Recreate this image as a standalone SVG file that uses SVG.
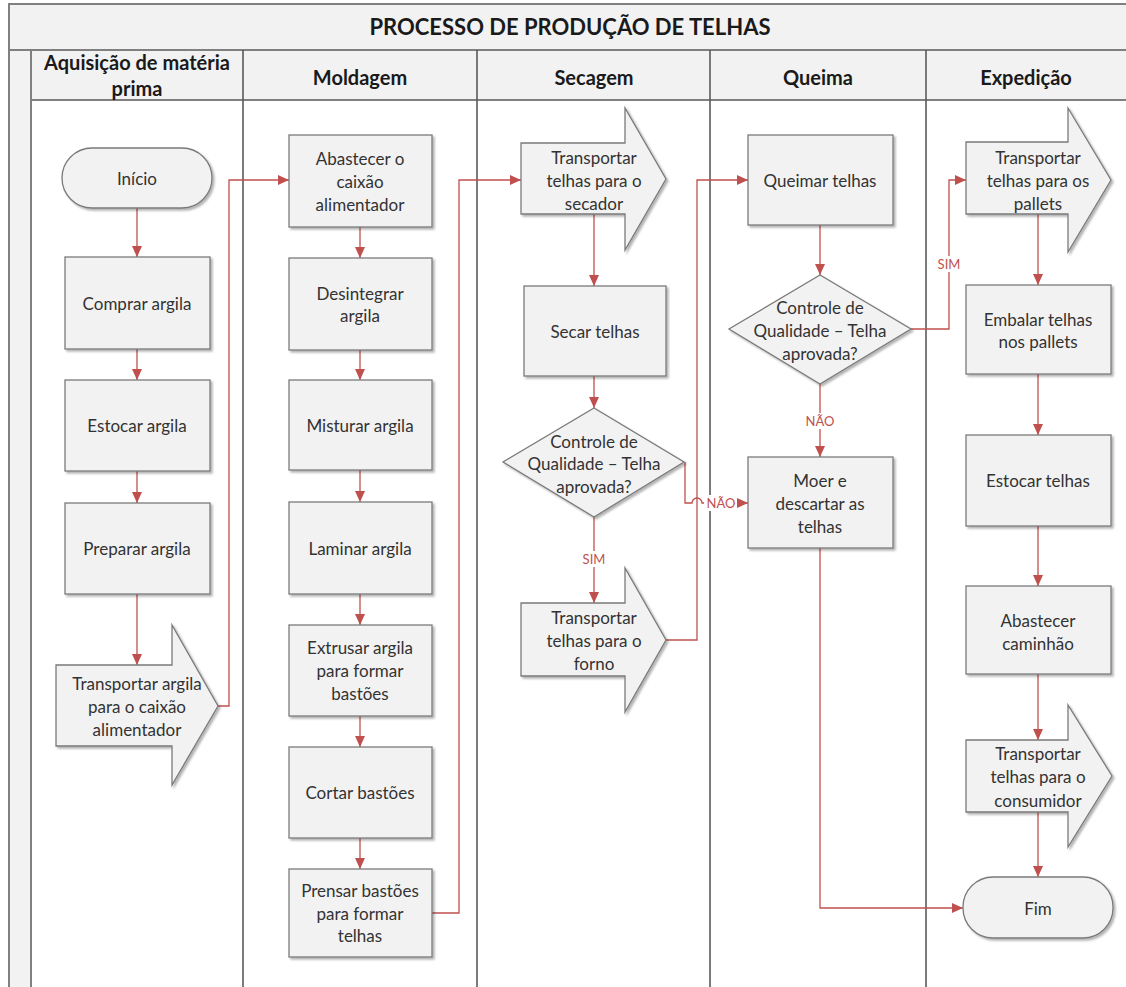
<svg xmlns="http://www.w3.org/2000/svg" width="1126" height="987" viewBox="0 0 1126 987">
  <style>
    .band { fill: #f2f2f2; stroke: #808080; stroke-width: 2; }
    .lane { stroke: #5a5a5a; stroke-width: 1.6; fill: none; }
    .title { font-family: Lato, "Liberation Sans", sans-serif; font-weight: bold; font-size: 22px; fill: #1a1a1a; text-anchor: middle; }
    .lanehead { font-family: Lato, "Liberation Sans", sans-serif; font-weight: bold; font-size: 20px; fill: #1a1a1a; text-anchor: middle; }
    .shape { fill: #f2f2f2; stroke: #7a7a7a; stroke-width: 1.3; filter: url(#shadow); }
    .label { font-family: Lato, "Liberation Sans", sans-serif; font-size: 17px; fill: #333333; text-anchor: middle; dominant-baseline: central; }
    .conn { fill: none; stroke: #c0504d; stroke-width: 1.3; }
    .arrow { marker-end: url(#head); }
    .cond { font-family: Lato, "Liberation Sans", sans-serif; font-size: 13px; fill: #c0504d; text-anchor: middle; dominant-baseline: central; }
  </style>
  <defs>
    <filter id="shadow" x="-10%" y="-10%" width="130%" height="130%">
      <feDropShadow dx="2" dy="2" stdDeviation="1.2" flood-color="#000" flood-opacity="0.3"/>
    </filter>
    <marker id="head" markerUnits="userSpaceOnUse" markerWidth="12" markerHeight="10" refX="11" refY="5" orient="auto">
      <path d="M0 0 L11 5 L0 10 Z" fill="#c0504d"/>
    </marker>
  </defs>

  <!-- pool frame: title band, lane header row and left strip -->
  <g id="frame">
    <rect x="0" y="0" width="1126" height="987" fill="#ffffff"/>
    <rect class="band" x="9" y="4" width="1130" height="46"/>
    <rect class="band" x="9" y="50" width="22" height="945"/>
    <rect class="band" x="31" y="50" width="1110" height="50"/>
    <line class="lane" x1="243" y1="50" x2="243" y2="987"/>
    <line class="lane" x1="477" y1="50" x2="477" y2="987"/>
    <line class="lane" x1="710" y1="50" x2="710" y2="987"/>
    <line class="lane" x1="926" y1="50" x2="926" y2="987"/>
    <text class="title" x="570" y="35">PROCESSO DE PRODUÇÃO DE TELHAS</text>
    <text class="lanehead" x="137" y="70">Aquisição de matéria</text>
    <text class="lanehead" x="137" y="96">prima</text>
    <text class="lanehead" x="360" y="85">Moldagem</text>
    <text class="lanehead" x="594" y="85">Secagem</text>
    <text class="lanehead" x="818" y="85">Queima</text>
    <text class="lanehead" x="1026" y="85">Expedição</text>
  </g>

  <!-- connectors -->
  <g id="connectors">
    <path class="conn arrow" d="M137 208 V257"/>
    <path class="conn arrow" d="M137 349 V380"/>
    <path class="conn arrow" d="M137 471 V503"/>
    <path class="conn arrow" d="M137 594 V665"/>
    <path class="conn arrow" d="M218 706 H229 V180 H289"/>

    <path class="conn arrow" d="M360 227 V258"/>
    <path class="conn arrow" d="M360 350 V380"/>
    <path class="conn arrow" d="M360 470 V502"/>
    <path class="conn arrow" d="M360 594 V625"/>
    <path class="conn arrow" d="M360 716 V747"/>
    <path class="conn arrow" d="M360 838 V869"/>
    <path class="conn arrow" d="M432 913 H459 V180 H521"/>

    <path class="conn arrow" d="M594 214 V286"/>
    <path class="conn arrow" d="M594 376 V408"/>
    <path class="conn arrow" d="M594 517 V603"/>
    <path class="conn arrow" d="M666 640 H697 V180 H748"/>
    <path class="conn arrow" d="M685 462 V503 H692 A5 5 0 0 1 702 503 H748"/>

    <path class="conn arrow" d="M820 225 V275"/>
    <path class="conn arrow" d="M911 329 H949 V180 H966"/>
    <path class="conn arrow" d="M820 384 V457"/>
    <path class="conn arrow" d="M820 548 V908 H963"/>

    <path class="conn arrow" d="M1038 214 V285"/>
    <path class="conn arrow" d="M1038 374 V435"/>
    <path class="conn arrow" d="M1038 526 V586"/>
    <path class="conn arrow" d="M1038 674 V740"/>
    <path class="conn arrow" d="M1038 812 V877"/>

    <!-- condition labels -->
    <rect x="581" y="551" width="26" height="16" fill="#ffffff"/>
    <text class="cond" x="594" y="559">SIM</text>
    <rect x="704" y="495" width="33" height="16" fill="#ffffff"/>
    <text class="cond" x="721" y="503">NÃO</text>
    <rect x="936" y="256" width="26" height="16" fill="#ffffff"/>
    <text class="cond" x="949" y="264">SIM</text>
    <rect x="803" y="413" width="34" height="16" fill="#ffffff"/>
    <text class="cond" x="820" y="421">NÃO</text>
  </g>

  <!-- Aquisição de matéria prima -->
  <g id="inicio">
    <rect class="shape" x="62" y="148" width="150" height="60" rx="30"/>
    <text class="label" x="137" y="178">Início</text>
  </g>
  <g id="comprar-argila">
    <rect class="shape" x="65" y="257" width="145" height="92"/>
    <text class="label" x="137" y="303">Comprar argila</text>
  </g>
  <g id="estocar-argila">
    <rect class="shape" x="65" y="380" width="145" height="91"/>
    <text class="label" x="137" y="425">Estocar argila</text>
  </g>
  <g id="preparar-argila">
    <rect class="shape" x="65" y="503" width="145" height="91"/>
    <text class="label" x="137" y="548">Preparar argila</text>
  </g>
  <g id="transportar-argila">
    <path class="shape" d="M56 665 H172 V625 L218 706 L172 785 V746 H56 Z"/>
    <text class="label" x="137" y="683">Transportar argila</text>
    <text class="label" x="137" y="706">para o caixão</text>
    <text class="label" x="137" y="729">alimentador</text>
  </g>

  <!-- Moldagem -->
  <g id="abastecer-caixao">
    <rect class="shape" x="289" y="135" width="143" height="92"/>
    <text class="label" x="360" y="158">Abastecer o</text>
    <text class="label" x="360" y="181">caixão</text>
    <text class="label" x="360" y="204">alimentador</text>
  </g>
  <g id="desintegrar-argila">
    <rect class="shape" x="289" y="258" width="143" height="92"/>
    <text class="label" x="360" y="293">Desintegrar</text>
    <text class="label" x="360" y="315">argila</text>
  </g>
  <g id="misturar-argila">
    <rect class="shape" x="289" y="380" width="143" height="90"/>
    <text class="label" x="360" y="425">Misturar argila</text>
  </g>
  <g id="laminar-argila">
    <rect class="shape" x="289" y="502" width="143" height="92"/>
    <text class="label" x="360" y="548">Laminar argila</text>
  </g>
  <g id="extrusar-argila">
    <rect class="shape" x="289" y="625" width="143" height="91"/>
    <text class="label" x="360" y="647">Extrusar argila</text>
    <text class="label" x="360" y="670">para formar</text>
    <text class="label" x="360" y="693">bastões</text>
  </g>
  <g id="cortar-bastoes">
    <rect class="shape" x="289" y="747" width="143" height="91"/>
    <text class="label" x="360" y="792">Cortar bastões</text>
  </g>
  <g id="prensar-bastoes">
    <rect class="shape" x="289" y="869" width="143" height="88"/>
    <text class="label" x="360" y="890">Prensar bastões</text>
    <text class="label" x="360" y="913">para formar</text>
    <text class="label" x="360" y="935">telhas</text>
  </g>

  <!-- Secagem -->
  <g id="transportar-secador">
    <path class="shape" d="M521 143 H625 V108 L666 179 L625 250 V214 H521 Z"/>
    <text class="label" x="594" y="157">Transportar</text>
    <text class="label" x="594" y="180">telhas para o</text>
    <text class="label" x="594" y="203">secador</text>
  </g>
  <g id="secar-telhas">
    <rect class="shape" x="524" y="286" width="142" height="90"/>
    <text class="label" x="595" y="331">Secar telhas</text>
  </g>
  <g id="controle-secagem">
    <path class="shape" d="M594 408 L684 462 L594 517 L503 462 Z"/>
    <text class="label" x="594" y="441">Controle de</text>
    <text class="label" x="594" y="463">Qualidade – Telha</text>
    <text class="label" x="594" y="486">aprovada?</text>
  </g>
  <g id="transportar-forno">
    <path class="shape" d="M521 603 H625 V568 L666 640 L625 712 V676 H521 Z"/>
    <text class="label" x="594" y="617">Transportar</text>
    <text class="label" x="594" y="640">telhas para o</text>
    <text class="label" x="594" y="663">forno</text>
  </g>

  <!-- Queima -->
  <g id="queimar-telhas">
    <rect class="shape" x="748" y="135" width="145" height="90"/>
    <text class="label" x="820" y="180">Queimar telhas</text>
  </g>
  <g id="controle-queima">
    <path class="shape" d="M820 275 L911 329 L820 384 L729 329 Z"/>
    <text class="label" x="820" y="307">Controle de</text>
    <text class="label" x="820" y="330">Qualidade – Telha</text>
    <text class="label" x="820" y="353">aprovada?</text>
  </g>
  <g id="moer-descartar">
    <rect class="shape" x="748" y="457" width="145" height="91"/>
    <text class="label" x="820" y="480">Moer e</text>
    <text class="label" x="820" y="503">descartar as</text>
    <text class="label" x="820" y="526">telhas</text>
  </g>

  <!-- Expedição -->
  <g id="transportar-pallets">
    <path class="shape" d="M966 142 H1068 V108 L1111 180 L1068 252 V214 H966 Z"/>
    <text class="label" x="1038" y="157">Transportar</text>
    <text class="label" x="1038" y="180">telhas para os</text>
    <text class="label" x="1038" y="203">pallets</text>
  </g>
  <g id="embalar-telhas">
    <rect class="shape" x="966" y="285" width="145" height="89"/>
    <text class="label" x="1038" y="319">Embalar telhas</text>
    <text class="label" x="1038" y="341">nos pallets</text>
  </g>
  <g id="estocar-telhas">
    <rect class="shape" x="966" y="435" width="145" height="91"/>
    <text class="label" x="1038" y="480">Estocar telhas</text>
  </g>
  <g id="abastecer-caminhao">
    <rect class="shape" x="966" y="586" width="145" height="88"/>
    <text class="label" x="1038" y="620">Abastecer</text>
    <text class="label" x="1038" y="643">caminhão</text>
  </g>
  <g id="transportar-consumidor">
    <path class="shape" d="M966 740 H1068 V705 L1112 776 L1068 847 V812 H966 Z"/>
    <text class="label" x="1038" y="753">Transportar</text>
    <text class="label" x="1038" y="776">telhas para o</text>
    <text class="label" x="1038" y="800">consumidor</text>
  </g>
  <g id="fim">
    <rect class="shape" x="963" y="877" width="150" height="61" rx="30"/>
    <text class="label" x="1038" y="908">Fim</text>
  </g>
</svg>
